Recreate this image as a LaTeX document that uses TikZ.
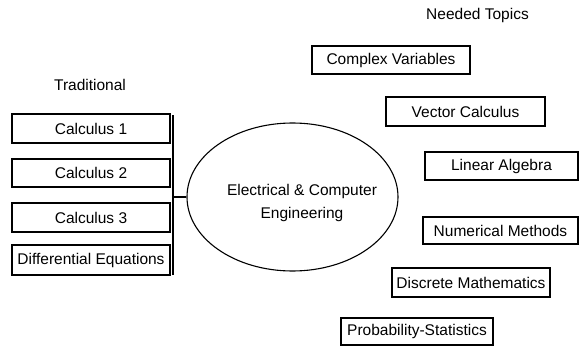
\documentclass[tikz,border=0pt]{standalone}
\usepackage{fontspec}
\setmainfont{Liberation Sans}
\usetikzlibrary{shapes.geometric}
\begin{document}
\begin{tikzpicture}[x=1pt,y=-1pt,
  txt/.style={font=\fontsize{15.5}{23}\selectfont, inner sep=0pt},
  box/.style={txt, draw, line width=1.1pt, rectangle},
  conn/.style={line width=1.1pt}]
\useasboundingbox (0,0) rectangle (579,348);
% headings
\node[txt] (trad) at (90,85) {Traditional};
\node[txt] (need) at (477.5,15) {Needed Topics};
% left boxes
\node[box, minimum width=158pt, minimum height=29pt] (c1) at (91,128.5) {Calculus 1};
\node[box, minimum width=158pt, minimum height=28pt] (c2) at (91,173) {Calculus 2};
\node[box, minimum width=158pt, minimum height=29pt] (c3) at (91,217.5) {Calculus 3};
\node[box, minimum width=158pt, minimum height=30pt] (de) at (91,260) {Differential Equations};
% bracket
\coordinate (btop) at (173,115);
\coordinate (bbot) at (173,275);
\coordinate (bmid) at (173,197);
\draw[conn] (btop) -- (bbot);
% ellipse
\node[ellipse, draw, line width=1.1pt, minimum width=211pt, minimum height=148pt, inner sep=0pt] (ece) at (292.5,197) {};
\node[txt, align=center] (ecetxt) at (302,203) {Electrical \& Computer\\Engineering};
\draw[conn] (bmid) -- (ece.west);
% right boxes
\node[box, minimum width=158pt, minimum height=28pt] (cv) at (391,60) {Complex Variables};
\node[box, minimum width=159pt, minimum height=29pt] (vc) at (465.5,111.5) {Vector Calculus};
\node[box, minimum width=153pt, minimum height=28pt] (la) at (501.5,166) {Linear Algebra};
\node[box, minimum width=155pt, minimum height=27pt] (nm) at (500.5,230.5) {Numerical Methods};
\node[box, minimum width=158pt, minimum height=29pt] (dm) at (471,282.5) {Discrete Mathematics};
\node[box, minimum width=152pt, minimum height=27pt] (ps) at (417,331.5) {Probability-Statistics};
\end{tikzpicture}
\end{document}
